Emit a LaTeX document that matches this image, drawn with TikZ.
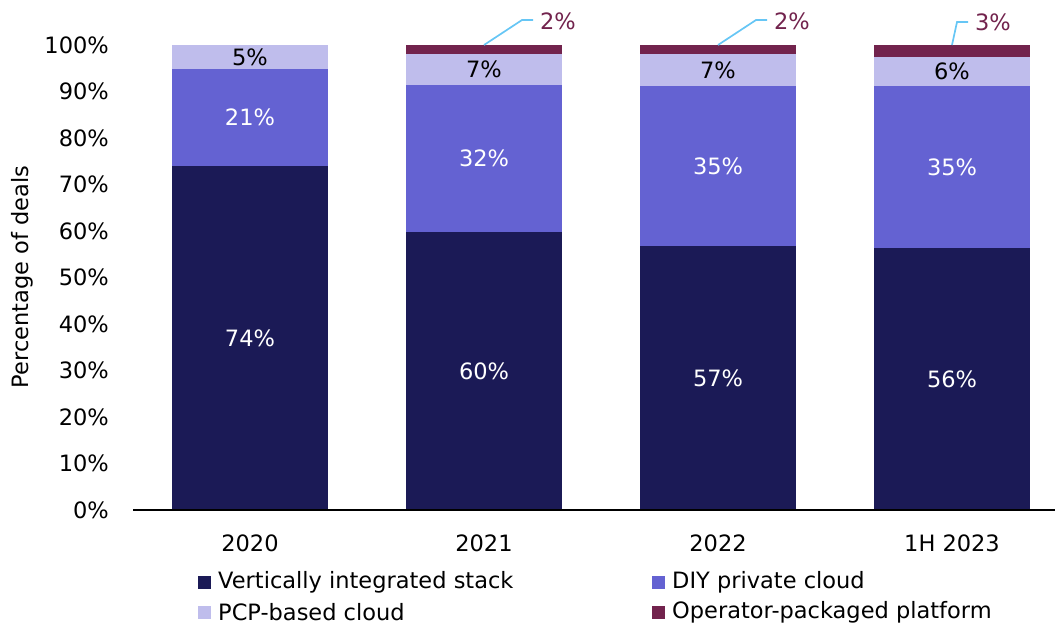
\documentclass[tikz,border=0pt]{standalone}
\usepackage{fontspec}
\setmainfont{DejaVu Sans}
\definecolor{stackcol}{HTML}{1B1A56}
\definecolor{diycol}{HTML}{6462D2}
\definecolor{pcpcol}{HTML}{BFBDEC}
\definecolor{opcol}{HTML}{72234D}
\definecolor{leadcol}{HTML}{66C6F5}
\begin{document}
\begin{tikzpicture}[x=1pt,y=-1pt,
  every node/.style={font=\fontsize{22.5}{27}\selectfont, inner sep=0pt},
  inlight/.style={text=white},
  indark/.style={text=black},
  tick/.style={anchor=east},
  cat/.style={anchor=center},
  leader/.style={draw=leadcol, line width=1.7pt},
  calloutlbl/.style={text=opcol, anchor=center},
  legsq/.style={minimum size=13pt, inner sep=0pt}]
\useasboundingbox (0,0) rectangle (1059,626);

% y axis tick labels
\foreach \v in {0,10,...,100}
  \node[tick] (tick-\v) at (109,{510-4.65*\v}) {\v\%};

% axis title
\node[rotate=90] (ytitle) at (22,277) {Percentage of deals};

% stacked bars: centre x / top of each segment (in percent)
\foreach \c/\a/\b/\d/\n/\la/\lb/\lc in
  {250/74.0/94.8/100/a/74/21/5,
   484/59.8/91.4/98.1/b/60/32/7,
   718/56.8/91.2/98.1/c/57/35/7,
   952/56.3/91.2/97.4/d/56/35/6}{
  \fill[stackcol] ({\c-78},510) rectangle ({\c+78},{510-4.65*\a});
  \fill[diycol] ({\c-78},{510-4.65*\a}) rectangle ({\c+78},{510-4.65*\b});
  \fill[pcpcol] ({\c-78},{510-4.65*\b}) rectangle ({\c+78},{510-4.65*\d});
  \node[inlight] (s-\n) at (\c,{510-4.65*\a/2}) {\la\%};
  \node[inlight] (p-\n) at (\c,{510-4.65*(\a+\b)/2}) {\lb\%};
  \node[indark] (q-\n) at (\c,{510-4.65*(\b+\d)/2}) {\lc\%};
}
% thin operator-packaged segments on top
\foreach \c/\d/\n in {484/98.1/b, 718/98.1/c, 952/97.4/d}{
  \fill[opcol] ({\c-78},{510-4.65*\d}) rectangle ({\c+78},45);
  \coordinate (top-\n) at (\c,45);
}

% category axis
\coordinate (ax0) at (133,510);
\coordinate (ax1) at (1055,510);
\draw[line width=2pt] (ax0) -- (ax1);
\node[cat] (cat-a) at (250,543) {2020};
\node[cat] (cat-b) at (484,543) {2021};
\node[cat] (cat-c) at (718,543) {2022};
\node[cat] (cat-d) at (952,543) {1H 2023};

% callouts for the thin top segments
\node[calloutlbl] (o-b) at (558,21) {2\%};
\node[calloutlbl] (o-c) at (792,21) {2\%};
\node[calloutlbl] (o-d) at (993,22) {3\%};
\draw[leader] (top-b) -- ++(38,-25) -- ++(11,0);
\draw[leader] (top-c) -- ++(38,-25) -- ++(11,0);
\draw[leader] (top-d) -- ++(5,-23) -- ++(11,0);

% legend
\node[legsq, fill=stackcol] (lg1) at (204.5,582) {};
\node[anchor=west] (lt1) at (218,582) {Vertically integrated stack};
\node[legsq, fill=diycol] (lg2) at (658,582) {};
\node[anchor=west] (lt2) at (672,582) {DIY private cloud};
\node[legsq, fill=pcpcol] (lg3) at (204.5,612) {};
\node[anchor=west] (lt3) at (218,612) {PCP-based cloud};
\node[legsq, fill=opcol] (lg4) at (658,612) {};
\node[anchor=west] (lt4) at (672,612) {Operator-packaged platform};
\end{tikzpicture}
\end{document}
